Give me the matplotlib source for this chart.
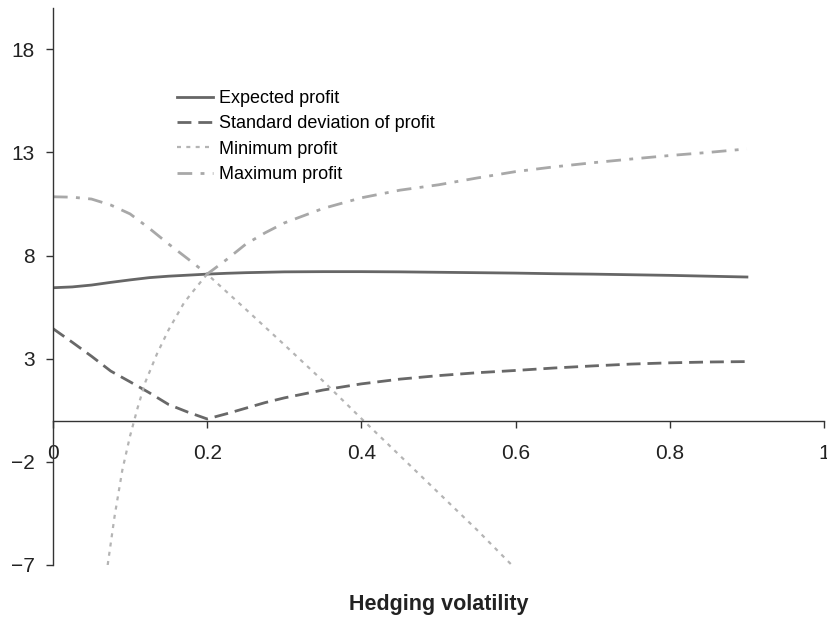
import numpy as np
import matplotlib
matplotlib.use('Agg')
import matplotlib.pyplot as plt

plt.rcParams['font.family'] = ['Liberation Sans', 'DejaVu Sans']

# hedging volatility grid (finer where the curves bend)
vol = [0.0, 0.025, 0.05, 0.075, 0.1, 0.125, 0.15, 0.175, 0.2, 0.225, 0.25,
       0.275, 0.3, 0.35, 0.4, 0.45, 0.5, 0.55, 0.6, 0.65, 0.7, 0.75, 0.8,
       0.85, 0.9]

expected = [6.44, 6.48, 6.57, 6.7, 6.82, 6.93, 7.0, 7.05, 7.1, 7.14, 7.17,
            7.19, 7.21, 7.22, 7.22, 7.21, 7.19, 7.17, 7.15, 7.12, 7.1, 7.07,
            7.04, 7.0, 6.96]
std_dev = [4.46, 3.8, 3.12, 2.4, 1.88, 1.35, 0.78, 0.41, 0.08, 0.33, 0.6,
           0.87, 1.1, 1.48, 1.78, 2.01, 2.18, 2.32, 2.43, 2.55, 2.65, 2.74,
           2.8, 2.84, 2.86]
maximum = [10.85, 10.83, 10.74, 10.45, 10.02, 9.32, 8.56, 7.84, 7.1, 7.8,
           8.55, 9.1, 9.58, 10.28, 10.8, 11.17, 11.43, 11.76, 12.07, 12.3,
           12.5, 12.68, 12.85, 13.0, 13.17]

# minimum profit only shows inside the axis range
min_vol = [0.071, 0.08, 0.09, 0.1, 0.11, 0.12, 0.135, 0.15, 0.17, 0.185, 0.2,
           0.25, 0.3, 0.35, 0.4, 0.45, 0.5, 0.55, 0.595]
minimum = [-7.0, -4.63, -2.4, -0.75, 0.64, 1.88, 3.24, 4.4, 5.71, 6.42, 7.1,
           5.4, 3.68, 1.93, 0.1, -1.7, -3.5, -5.3, -7.0]

fig = plt.figure(figsize=(8.27, 6.17), dpi=100)
ax = fig.add_axes([0.064, 0.0843, 0.9324, 0.9027])

ax.plot(vol, expected, color='#666666', lw=2.0, label='Expected profit')
ax.plot(vol, std_dev, color='#686868', lw=2.0, dashes=(5, 2.5),
        label='Standard deviation of profit')
ax.plot(min_vol, minimum, color='#b4b4b4', lw=1.6, dashes=(1.8, 2.4),
        label='Minimum profit')
ax.plot(vol, maximum, color='#a8a8a8', lw=2.0, dashes=(5.3, 3, 1.4, 3),
        label='Maximum profit')

ax.set_xlim(0, 1)
ax.set_ylim(-7, 20)
ax.set_xticks([0, 0.2, 0.4, 0.6, 0.8, 1])
ax.set_xticklabels(['0', '0.2', '0.4', '0.6', '0.8', '1'])
ax.set_yticks([-7, -2, 3, 8, 13, 18])

ax.spines['top'].set_visible(False)
ax.spines['right'].set_visible(False)
ax.spines['bottom'].set_position(('data', 0))
for s in ['left', 'bottom']:
    ax.spines[s].set_color('#333333')
    ax.spines[s].set_linewidth(1.0)

ax.tick_params(axis='both', direction='out', length=5, width=1,
               color='#333333', labelsize=15, labelcolor='#222222')
ax.tick_params(axis='x', pad=12)
ax.tick_params(axis='y', pad=8)

ax.set_xlabel('Hedging volatility', fontsize=15.5, fontweight='bold',
              color='#222222')
ax.xaxis.set_label_coords(0.5, -0.052)

ax.legend(loc='upper left', bbox_to_anchor=(0.214, 0.854),
          bbox_transform=fig.transFigure, frameon=False, fontsize=13,
          handlelength=2.0, handletextpad=0.35, labelspacing=0.46,
          borderpad=0, borderaxespad=0)

fig.savefig('out.png', dpi=100)
